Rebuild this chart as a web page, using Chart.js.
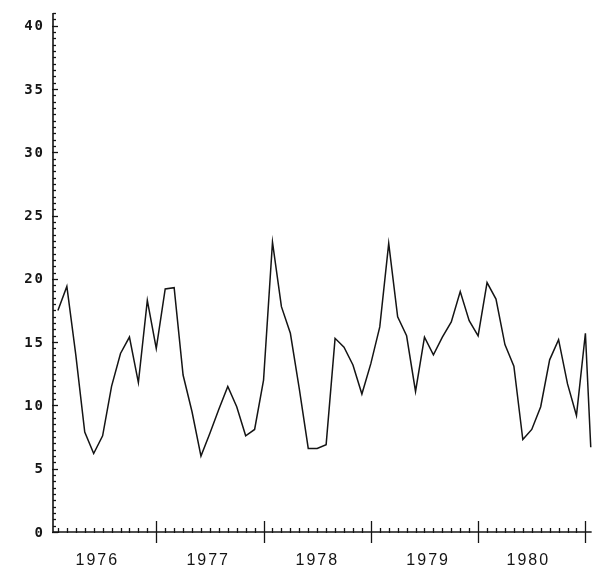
<!DOCTYPE html>
<html>
<head>
<meta charset="utf-8">
<script src="https://cdn.jsdelivr.net/npm/chart.js@4.4.0/dist/chart.umd.min.js"></script>
<style>
  html, body { margin: 0; padding: 0; background: #fff; }
  canvas { display: block; }
</style>
</head>
<body>
<canvas id="seriesCanvas" width="600" height="577"></canvas>
<script>
// Monthly values, Jan 1976 onward
const monthValues = [
    17.5, 19.4, 14.0, 7.9, 6.2, 7.6, 11.5, 14.1, 15.4, 11.8, 18.3, 14.5,
    19.2, 19.3, 12.4, 9.5, 6.0, 7.8, 9.7, 11.5, 9.9, 7.6, 8.1, 12.0,
    22.9, 17.8, 15.7, 11.3, 6.6, 6.6, 6.9, 15.3, 14.6, 13.2, 10.9, 13.3,
    16.2, 22.8, 17.0, 15.5, 11.1, 15.4, 14.0, 15.4, 16.6, 19.0, 16.7, 15.5,
    19.7, 18.4, 14.8, 13.1, 7.3, 8.1, 9.9, 13.6, 15.2, 11.7, 9.2, 15.7,
    6.7
];
// x position of each value in months; the last reading sits just past the final tick
const monthIndex = monthValues.map((v, i) => (i === 60 ? 59.6 : i));

// Axis ticks and labels
const yearLabels = ['1976', '1977', '1978', '1979', '1980'];
const yearLabelPos = [4.3, 16.7, 28.9, 41.3, 52.5];
const yearTickPos = [11, 23, 35, 47, 59];
const monthTickCount = 60;
const yLabelValues = [0, 5, 10, 15, 20, 25, 30, 35, 40];
const yMinorStep = 0.5;

const X_MIN = -0.55, X_MAX = 59.85;
const Y_MIN = 0, Y_MAX = 41;
const INK = '#141414';

// Draws the plotter-style axes with the chart's own scales
const plotterAxes = {
    id: 'plotterAxes',
    afterDraw(chart) {
        const { ctx, scales: { x, y } } = chart;
        const ax = x.getPixelForValue(X_MIN);
        const ay = y.getPixelForValue(0);
        const xEnd = x.getPixelForValue(59.7);
        const yTop = y.getPixelForValue(Y_MAX);

        ctx.save();
        ctx.strokeStyle = INK;
        ctx.fillStyle = INK;
        ctx.lineWidth = 1.6;

        // axis lines
        ctx.beginPath();
        ctx.moveTo(ax, yTop);
        ctx.lineTo(ax, ay);
        ctx.lineTo(xEnd, ay);
        ctx.stroke();

        // y ticks
        ctx.lineWidth = 1.3;
        for (let v = 0; v <= Y_MAX + 0.001; v += yMinorStep) {
            const py = Math.round(y.getPixelForValue(v)) + 0.5;
            const major = yLabelValues.includes(Math.round(v * 10) / 10);
            ctx.beginPath();
            ctx.moveTo(ax - (major ? 1 : 0), py);
            ctx.lineTo(ax + (major ? 5 : 3), py);
            ctx.stroke();
        }

        // x ticks
        for (let i = 0; i < monthTickCount; i++) {
            const px = Math.round(x.getPixelForValue(i)) + 0.5;
            const major = yearTickPos.includes(i);
            ctx.beginPath();
            ctx.moveTo(px, ay - (major ? 11 : 4));
            ctx.lineTo(px, ay + (major ? 11 : 1));
            ctx.stroke();
        }

        // y labels
        ctx.font = 'bold 14px "DejaVu Sans Mono"';
        ctx.letterSpacing = '2px';
        ctx.textAlign = 'right';
        ctx.textBaseline = 'middle';
        yLabelValues.forEach(v => {
            ctx.fillText(String(v), ax - 8, y.getPixelForValue(v) + 1);
        });

        // x labels
        ctx.font = '16px "Liberation Sans"';
        ctx.letterSpacing = '2px';
        ctx.textAlign = 'center';
        ctx.textBaseline = 'middle';
        yearLabels.forEach((lbl, k) => {
            ctx.fillText(lbl, x.getPixelForValue(yearLabelPos[k]) + 1, ay + 29);
        });
        ctx.restore();
    }
};

const chartCtx = document.getElementById('seriesCanvas').getContext('2d');

new Chart(chartCtx, {
    type: 'line',
    data: {
        datasets: [{
            data: monthIndex.map((m, i) => ({ x: m, y: monthValues[i] })),
            borderColor: INK,
            borderWidth: 1.5,
            pointRadius: 0,
            tension: 0,
            fill: false,
            clip: false
        }]
    },
    options: {
        responsive: false,
        animation: false,
        devicePixelRatio: 1,
        layout: { padding: { left: 53, right: 7, top: 13, bottom: 45 } },
        plugins: { legend: { display: false }, tooltip: { enabled: false } },
        scales: {
            x: { type: 'linear', min: X_MIN, max: X_MAX, display: false },
            y: { type: 'linear', min: Y_MIN, max: Y_MAX, display: false }
        }
    },
    plugins: [plotterAxes]
});
</script>
</body>
</html>
